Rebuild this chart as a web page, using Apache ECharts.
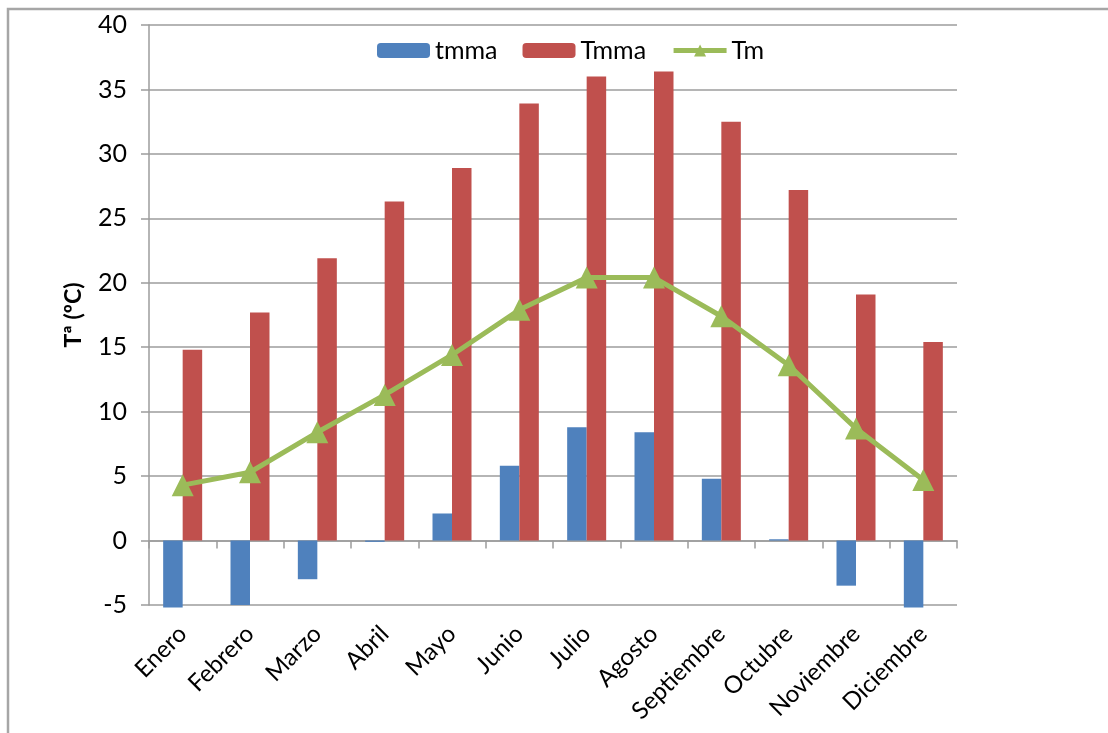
<!DOCTYPE html>
<html>
<head>
<meta charset="utf-8">
<script src="https://cdn.jsdelivr.net/npm/echarts@6/dist/echarts.min.js"></script>
<style>
  html, body { margin: 0; padding: 0; background: #fff; }
  #chart { width: 1108px; height: 733px; }
</style>
</head>
<body>
<div id="chart"></div>
<script>
// Monthly temperatures (ºC)
const months = ['Enero', 'Febrero', 'Marzo', 'Abril', 'Mayo', 'Junio', 'Julio',
                'Agosto', 'Septiembre', 'Octubre', 'Noviembre', 'Diciembre'];
// mean of the absolute minimums
const tmma = [-5.2, -5.0, -3.0, -0.1, 2.1, 5.8, 8.8, 8.4, 4.8, 0.1, -3.5, -5.2];
// mean of the absolute maximums
const Tmma = [14.8, 17.7, 21.9, 26.3, 28.9, 33.9, 36.0, 36.4, 32.5, 27.2, 19.1, 15.4];
// monthly mean
const Tm = [4.3, 5.3, 8.4, 11.3, 14.4, 17.9, 20.4, 20.4, 17.4, 13.6, 8.7, 4.7];

const FONT = 'Lato, "Open Sans", sans-serif';
const GRID_GREY = '#9c9c9c';

const chart = echarts.init(document.getElementById('chart'), null, { renderer: 'canvas' });

chart.setOption({
  backgroundColor: '#ffffff',
  animation: false,
  textStyle: { fontFamily: FONT, color: '#000' },
  graphic: [{
    type: 'rect',
    shape: { x: 8, y: 9, width: 1300, height: 900 },
    style: { fill: 'none', stroke: '#a6a6a6', lineWidth: 2.5 },
    silent: true
  }],
  legend: {
    top: 33,
    left: 372,
    itemWidth: 53,
    itemHeight: 15,
    itemGap: 25,
    lineStyle: { width: 5 },
    textStyle: { fontFamily: FONT, fontSize: 25, color: '#000' },
    data: ['tmma', 'Tmma', 'Tm']
  },
  grid: {
    left: 149, right: 151, top: 25, bottom: 128,
    containLabel: false,
    outerBoundsMode: 'none'
  },
  xAxis: {
    type: 'category',
    data: months,
    axisLine: { onZero: true, lineStyle: { color: GRID_GREY, width: 1.5 } },
    axisTick: { show: true, length: 8, alignWithLabel: false, lineStyle: { color: GRID_GREY, width: 1.5 } },
    axisLabel: {
      interval: 0,
      rotate: 45,
      fontFamily: FONT,
      fontSize: 24,
      color: '#000',
      margin: 25
    }
  },
  yAxis: {
    type: 'value',
    min: -5,
    max: 40,
    interval: 5,
    name: 'Tª (ºC)',
    nameLocation: 'middle',
    nameRotate: 90,
    nameGap: 64,
    nameTextStyle: { fontFamily: FONT, fontSize: 23, fontWeight: 'bold', color: '#000' },
    axisLine: { show: true, lineStyle: { color: GRID_GREY, width: 1.5 } },
    axisTick: { show: true, length: 8, lineStyle: { color: GRID_GREY, width: 1.5 } },
    axisLabel: { fontFamily: FONT, fontSize: 25, color: '#000', margin: 22 },
    splitLine: { show: true, lineStyle: { color: GRID_GREY, width: 1.5 } }
  },
  series: [
    {
      name: 'tmma',
      type: 'bar',
      data: tmma,
      barWidth: 19.5,
      barGap: '0%',
      clip: false,
      itemStyle: { color: '#4f81bd' }
    },
    {
      name: 'Tmma',
      type: 'bar',
      data: Tmma,
      barWidth: 19.5,
      barGap: '0%',
      clip: false,
      itemStyle: { color: '#c0504d' }
    },
    {
      name: 'Tm',
      type: 'line',
      data: Tm,
      symbol: 'triangle',
      symbolSize: 22,
      lineStyle: { color: '#9bbb59', width: 5 },
      itemStyle: { color: '#9bbb59' },
      z: 5
    }
  ]
});
</script>
</body>
</html>
